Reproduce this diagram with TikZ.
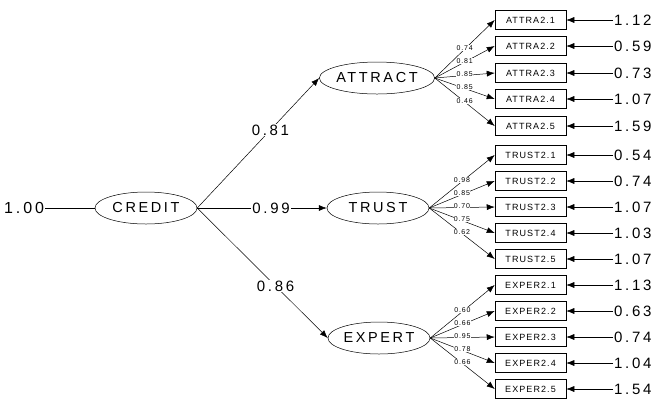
\documentclass[tikz,border=0pt]{standalone}
\usepackage{fontspec}
\setmainfont{Liberation Sans}
\newfontfamily\widefont[LetterSpace=18]{Liberation Sans}
\newfontfamily\boxfont[LetterSpace=12]{Liberation Sans}
\usetikzlibrary{shapes, arrows.meta, positioning, calc}

\tikzset{
  latent/.style={draw, ellipse, line width=0.5pt, minimum width=102pt, minimum height=32pt, inner sep=0pt, font=\widefont\fontsize{14.5}{14.5}\selectfont},
  indic/.style={draw, rectangle, line width=0.5pt, minimum width=71pt, minimum height=19pt, inner sep=0pt, font=\boxfont\fontsize{9}{9}\selectfont},
  errval/.style={anchor=west, inner sep=1pt, font=\widefont\fontsize{15}{15}\selectfont},
  path/.style={fill=white, inner sep=1pt, font=\widefont\fontsize{15}{15}\selectfont},
  load/.style={fill=white, inner sep=0.3pt, font=\boxfont\fontsize{7}{7}\selectfont},
  arr/.style={-{Latex[length=8pt,width=6pt]}, line width=0.5pt},
}

\begin{document}
\begin{tikzpicture}[x=1pt, y=-1pt]
\useasboundingbox (0,0) rectangle (660,400);

% Latent variables
\node[latent] (credit) at (146, 208) {CREDIT};
\node[latent] (attract) at (377, 78) {ATTRACT};
\node[latent] (trust) at (378, 208) {TRUST};
\node[latent] (expert) at (379, 338) {EXPERT};

\node[errval, font=\widefont\fontsize{16}{16}\selectfont] (cvar) at (3, 208) {1.00};
\draw[line width=0.5pt] (cvar) -- (credit);

% Structural paths
\draw[arr] (credit.east) -- (attract.west) node[path, pos=0.6] {0.81};
\draw[arr] (credit.east) -- (trust.west) node[path, pos=0.57] {0.99};
\draw[arr] (credit.east) -- (expert.west) node[path, pos=0.6] {0.86};

% Attractiveness indicators
\foreach \i/\y/\l/\e in {1/20/0.74/1.12, 2/46/0.81/0.59, 3/73/0.85/0.73, 4/99/0.85/1.07, 5/126/0.46/1.59} {
   \node[indic] (a\i) at (530.5, \y) {ATTRA2.\i};
   \node[errval] (ea\i) at (613, \y) {\e};
   \draw[arr] (ea\i) -- (a\i);
   \draw[arr] (attract.east) -- (a\i.west) node[load, midway, yshift=1pt] {\l};
}

% Trustworthiness indicators
\foreach \i/\y/\l/\e in {1/155/0.98/0.54, 2/181/0.85/0.74, 3/207/0.70/1.07, 4/233/0.75/1.03, 5/259/0.62/1.07} {
   \node[indic] (t\i) at (530.5, \y) {TRUST2.\i};
   \node[errval] (et\i) at (613, \y) {\e};
   \draw[arr] (et\i) -- (t\i);
   \draw[arr] (trust.east) -- (t\i.west) node[load, midway, yshift=1.5pt] {\l};
}

% Expertise indicators
\foreach \i/\y/\l/\e in {1/285/0.60/1.13, 2/311/0.66/0.63, 3/337/0.95/0.74, 4/363/0.78/1.04, 5/389/0.66/1.54} {
   \node[indic] (x\i) at (530.5, \y) {EXPER2.\i};
   \node[errval] (ex\i) at (613, \y) {\e};
   \draw[arr] (ex\i) -- (x\i);
   \draw[arr] (expert.east) -- (x\i.west) node[load, midway, yshift=1.5pt] {\l};
}
\end{tikzpicture}
\end{document}
